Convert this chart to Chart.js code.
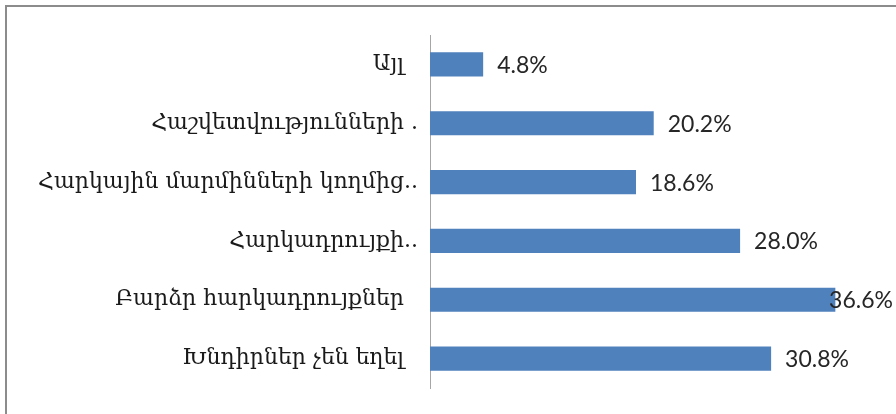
<!DOCTYPE html>
<html>
<head>
<meta charset="utf-8">
<script src="https://cdn.jsdelivr.net/npm/chart.js@4/dist/chart.umd.min.js"></script>
<style>
  html, body { margin: 0; padding: 0; background: #ffffff; }
  #wrap { position: relative; width: 896px; height: 414px; overflow: hidden; }
  #frame {
    position: absolute; left: 5px; top: 5px; width: 900px; height: 420px;
    border-left: 2px solid #8c8c8c; border-top: 2px solid #8c8c8c;
    box-sizing: border-box; pointer-events: none;
  }
  canvas { position: absolute; left: 0; top: 0; }
</style>
</head>
<body>
<div id="wrap">
  <canvas id="chart" width="896" height="414"></canvas>
  <div id="frame"></div>
</div>
<script>
// Survey answers, top to bottom
const categories = [
  "Այլ  ",
  "Հաշվետվությունների .",
  "Հարկային մարմինների կողմից..",
  "Հարկադրույքի..",
  "Բարձր հարկադրույքներ  ",
  "Խնդիրներ չեն եղել  "
];
// Share of respondents, %
const shares = [4.8, 20.2, 18.6, 28.0, 36.6, 30.8];
const axisMin = 0;
const axisMax = 40;

// Writes each bar's value to its right, kept inside the canvas
const valueLabels = {
  id: 'valueLabels',
  afterDatasetsDraw(chart) {
    const ctx = chart.ctx;
    const meta = chart.getDatasetMeta(0);
    ctx.save();
    ctx.font = '23px Lato, "Open Sans", sans-serif';
    ctx.fillStyle = '#262626';
    ctx.textBaseline = 'middle';
    ctx.textAlign = 'left';
    meta.data.forEach((bar, i) => {
      const text = shares[i].toFixed(1) + '%';
      const w = ctx.measureText(text).width;
      const x = Math.min(bar.x + 14, chart.width - 3 - w);
      ctx.fillText(text, x, bar.y + 1);
    });
    ctx.restore();
  }
};

new Chart(document.getElementById('chart'), {
  type: 'bar',
  data: {
    labels: categories,
    datasets: [{
      data: shares,
      backgroundColor: '#4f81bd',
      borderWidth: 0,
      barPercentage: 0.41,
      categoryPercentage: 1.0
    }]
  },
  options: {
    indexAxis: 'y',
    responsive: false,
    animation: false,
    layout: { padding: { left: 0, right: 23, top: 35, bottom: 26 } },
    plugins: {
      legend: { display: false },
      tooltip: { enabled: false }
    },
    scales: {
      x: {
        display: false,
        min: axisMin,
        max: axisMax
      },
      y: {
        afterFit(scale) { scale.width = 430; },
        grid: { display: false, drawTicks: false },
        border: { display: true, color: '#a6a6a6', width: 1 },
        ticks: {
          padding: 12,
          color: '#1a1a1a',
          font: { family: '"DejaVu Serif", serif', size: 22 }
        }
      }
    }
  },
  plugins: [valueLabels]
});
</script>
</body>
</html>
